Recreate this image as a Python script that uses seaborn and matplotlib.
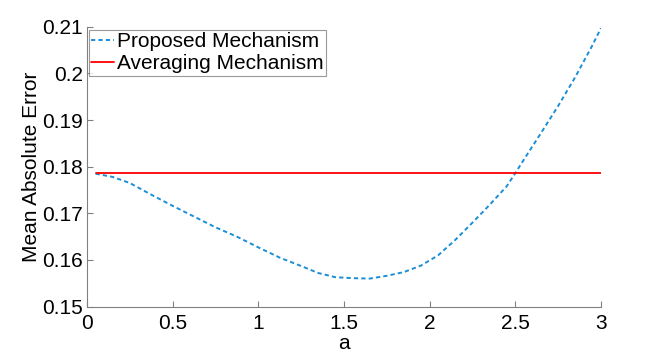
import pandas as pd
import matplotlib
matplotlib.use("Agg")
import matplotlib.pyplot as plt
import seaborn as sns

# Data
a_values = [0.05, 0.15, 0.25, 0.375, 0.5, 0.625, 0.75, 0.875, 1.0, 1.125,
            1.25, 1.35, 1.45, 1.55, 1.65, 1.75, 1.85, 1.95, 2.05, 2.15,
            2.25, 2.35, 2.45, 2.5, 2.55, 2.65, 2.75, 2.85, 2.95, 3.0]
proposed_mae = [0.1785, 0.1778, 0.1765, 0.1740, 0.1716, 0.1693, 0.1670, 0.1650, 0.1627, 0.1605,
                0.1587, 0.1572, 0.1563, 0.1561, 0.1560, 0.1566, 0.1574, 0.1588, 0.1610, 0.1643,
                0.1680, 0.1718, 0.1758, 0.1786, 0.1815, 0.1872, 0.1930, 0.1992, 0.2060, 0.2097]
averaging_a = [0.05, 3.0]
averaging_mae = [0.1786, 0.1786]

x_ticks = [0, 0.5, 1, 1.5, 2, 2.5, 3]
x_tick_labels = ["0", "0.5", "1", "1.5", "2", "2.5", "3"]
y_ticks = [0.15, 0.16, 0.17, 0.18, 0.19, 0.2, 0.21]
y_tick_labels = ["0.15", "0.16", "0.17", "0.18", "0.19", "0.2", "0.21"]

df_prop = pd.DataFrame({"a": a_values, "mae": proposed_mae})
df_avg = pd.DataFrame({"a": averaging_a, "mae": averaging_mae})

sns.set_style("ticks")
plt.rcParams["font.family"] = ["Liberation Sans", "DejaVu Sans"]
plt.rcParams["xtick.direction"] = "in"
plt.rcParams["ytick.direction"] = "in"
plt.rcParams["text.color"] = "black"
plt.rcParams["axes.labelcolor"] = "black"
plt.rcParams["xtick.labelcolor"] = "black"
plt.rcParams["ytick.labelcolor"] = "black"

fig = plt.figure(figsize=(6.64, 3.52), dpi=100)
ax = fig.add_axes([0.131, 0.129, 0.774, 0.795])

sns.lineplot(data=df_prop, x="a", y="mae", ax=ax, color="#1a8fd6",
             linestyle=(0, (2.2, 1.6)), linewidth=1.4, label="Proposed Mechanism")
sns.lineplot(data=df_avg, x="a", y="mae", ax=ax, color="red",
             linewidth=1.3, label="Averaging Mechanism")

ax.set_xlim(0, 3)
ax.set_ylim(0.15, 0.21)
ax.set_xticks(x_ticks)
ax.set_xticklabels(x_tick_labels)
ax.set_yticks(y_ticks)
ax.set_yticklabels(y_tick_labels)
ax.tick_params(labelsize=15, length=4, color="#808080")
ax.tick_params(axis="x", pad=5)
ax.tick_params(axis="y", pad=3)
ax.set_xlabel("a", fontsize=15, labelpad=1)
ax.set_ylabel("Mean Absolute Error", fontsize=15, labelpad=1)

sns.despine(ax=ax)
for s in ["left", "bottom"]:
    ax.spines[s].set_color("#808080")
    ax.spines[s].set_linewidth(0.8)

leg = ax.legend(loc="upper left", bbox_to_anchor=(0.003, 0.99), fontsize=15,
                frameon=True, fancybox=False, handlelength=1.1, handletextpad=0.15,
                labelspacing=0.15, borderpad=0.12, borderaxespad=0)
leg.get_frame().set_edgecolor("#808080")
leg.get_frame().set_linewidth(0.8)

fig.savefig("out.png", dpi=100)
